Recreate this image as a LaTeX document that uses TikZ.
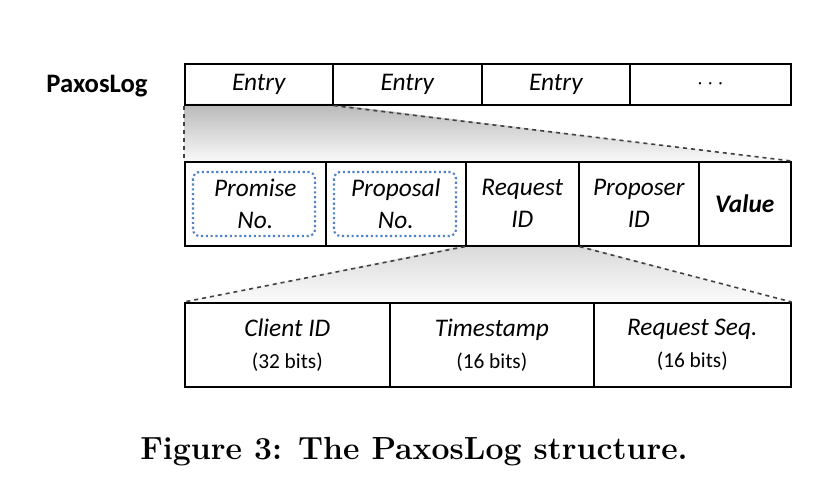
\documentclass[tikz,border=0pt]{standalone}
\usepackage{fontspec}
\setmainfont{Carlito}
\newfontfamily\capfont{Latin Modern Roman}
\usetikzlibrary{positioning}
\definecolor{dotblue}{RGB}{80,130,200}
\begin{document}
\begin{tikzpicture}[x=0.75pt,y=-0.75pt,
  cell/.style={draw,line width=1.2pt,inner sep=0pt,anchor=north west,align=center,font=\fontsize{19}{24}\selectfont\itshape},
  link/.style={dashed,line width=1.2pt,gray!50!black}]
  \useasboundingbox (0,0) rectangle (828,488);
  % zoom wedges
  \shade[top color=gray!55,bottom color=gray!5] (184,104) -- (332,104) -- (790,161) -- (184,161) -- cycle;
  \shade[top color=gray!30,bottom color=gray!3] (465,245) -- (578,245) -- (790,302) -- (184,302) -- cycle;
  % top row
  \node[font=\fontsize{20}{24}\selectfont\bfseries] (lbl) at (97,86) {PaxosLog};
  \node[cell,minimum width=148*0.75pt,minimum height=41*0.75pt] (e1) at (184,63) {Entry};
  \node[cell,minimum width=149*0.75pt,minimum height=41*0.75pt] (e2) at (332,63) {Entry};
  \node[cell,minimum width=148*0.75pt,minimum height=41*0.75pt] (e3) at (481,63) {Entry};
  \node[cell,minimum width=161*0.75pt,minimum height=41*0.75pt,font=\fontsize{19}{24}\selectfont] (e4) at (629,63) {\textbf{$\cdots$}};
  % middle row
  \node[cell,minimum width=141*0.75pt,minimum height=84*0.75pt] (m1) at (184,161) {Promise\\No.};
  \node[cell,minimum width=140*0.75pt,minimum height=84*0.75pt] (m2) at (325,161) {Proposal\\No.};
  \node[cell,minimum width=113*0.75pt,minimum height=84*0.75pt] (m3) at (465,161) {Request\\ID};
  \node[cell,minimum width=120*0.75pt,minimum height=84*0.75pt] (m4) at (578,161) {Proposer\\ID};
  \node[cell,minimum width=92*0.75pt,minimum height=84*0.75pt,font=\fontsize{19}{24}\selectfont\bfseries\itshape] (m5) at (698,161) {Value};
  \draw[dotblue,line width=1.6pt,dotted,rounded corners=5pt] (193,172) rectangle (315,236);
  \draw[dotblue,line width=1.6pt,dotted,rounded corners=5pt] (334,172) rectangle (456,236);
  % bottom row
  \node[cell,minimum width=205*0.75pt,minimum height=84*0.75pt] (b1) at (184,302) {Client ID\\{\upshape\fontsize{16}{24}\selectfont (32 bits)}};
  \node[cell,minimum width=204*0.75pt,minimum height=84*0.75pt] (b2) at (389,302) {Timestamp\\{\upshape\fontsize{16}{24}\selectfont (16 bits)}};
  \node[cell,minimum width=197*0.75pt,minimum height=84*0.75pt] (b3) at (593,302) {Request Seq.\\{\upshape\fontsize{16}{24}\selectfont (16 bits)}};
  % dashed links
  \draw[link] (e1.south west) -- (m1.north west);
  \draw[link] (e1.south east) -- (m5.north east);
  \draw[link] (m3.south west) -- (b1.north west);
  \draw[link] (m3.south east) -- (b3.north east);
  % caption
  \node[font=\capfont\fontsize{24}{28}\selectfont\bfseries] (cap) at (414,452) {Figure 3: The PaxosLog structure.};
\end{tikzpicture}
\end{document}
